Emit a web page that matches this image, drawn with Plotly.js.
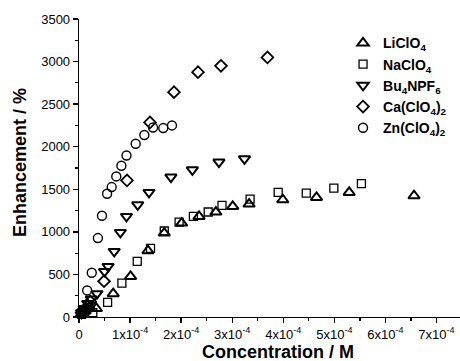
<!DOCTYPE html>
<html>
<head>
<meta charset="utf-8">
<script src="https://cdn.plot.ly/plotly-3.0.1.min.js"></script>
<style>html,body{margin:0;padding:0;background:#fff;}#chart{width:460px;height:361px;}</style>
</head>
<body>
<div id="chart"></div>
<script>
// Concentrations in M, enhancement in %
const liX = [0.05e-4,0.12e-4,0.2e-4,0.34e-4,0.67e-4,1.01e-4,1.35e-4,1.67e-4,2.01e-4,2.35e-4,2.68e-4,3.01e-4,3.33e-4,3.99e-4,4.65e-4,5.29e-4,6.56e-4];
const liY = [40,70,120,100,274,477,778,986,1103,1181,1233,1299,1327,1377,1404,1463,1424];

const naX = [0.05e-4,0.1e-4,0.18e-4,0.27e-4,0.56e-4,0.84e-4,1.14e-4,1.40e-4,1.67e-4,1.96e-4,2.24e-4,2.53e-4,2.80e-4,3.35e-4,3.90e-4,4.45e-4,4.99e-4,5.53e-4];
const naY = [30,60,110,50,171,399,653,805,1010,1115,1181,1233,1310,1385,1463,1456,1514,1566];

const buX = [0.05e-4,0.1e-4,0.17e-4,0.24e-4,0.35e-4,0.50e-4,0.57e-4,0.69e-4,0.81e-4,0.93e-4,1.15e-4,1.37e-4,1.80e-4,2.22e-4,2.74e-4,3.24e-4];
const buY = [50,100,160,210,274,535,594,770,993,1181,1318,1463,1643,1729,1820,1858];

const caX = [0.05e-4,0.13e-4,0.22e-4,0.49e-4,0.94e-4,1.39e-4,1.86e-4,2.33e-4,2.78e-4,3.69e-4];
const caY = [50,100,180,420,1604,2285,2641,2876,2950,3048];

const znX = [0.04e-4,0.08e-4,0.16e-4,0.25e-4,0.37e-4,0.45e-4,0.55e-4,0.64e-4,0.73e-4,0.83e-4,0.93e-4,1.11e-4,1.28e-4,1.45e-4,1.65e-4,1.82e-4];
const znY = [60,86,312,520,927,1189,1448,1526,1651,1776,1897,2035,2137,2226,2219,2250];

const names = ["LiClO<sub>4</sub>","NaClO<sub>4</sub>","Bu<sub>4</sub>NPF<sub>6</sub>","Ca(ClO<sub>4</sub>)<sub>2</sub>","Zn(ClO<sub>4</sub>)<sub>2</sub>"];
const xTickVals = [0,1e-4,2e-4,3e-4,4e-4,5e-4,6e-4,7e-4];
const xTickText = ["0","1x10<sup>-4</sup>","2x10<sup>-4</sup>","3x10<sup>-4</sup>","4x10<sup>-4</sup>","5x10<sup>-4</sup>","6x10<sup>-4</sup>","7x10<sup>-4</sup>"];
const yTickVals = [0,500,1000,1500,2000,2500,3000,3500];

const FONT = "Arial, 'Liberation Sans', sans-serif";
function tr(x,y,name,symbol,size,lw){
  return {x:x,y:y,name:name,type:'scatter',mode:'markers',cliponaxis:false,
    marker:{symbol:symbol,size:size,color:'#000',line:{color:'#000',width:lw}}};
}
const data = [
  tr(liX,liY,names[0],'triangle-up-open',10,2),
  tr(naX,naY,names[1],'square-open',8,1.3),
  tr(buX,buY,names[2],'triangle-down-open',10,2),
  tr(caX,caY,names[3],'diamond-open',9,1.8),
  tr(znX,znY,names[4],'circle-open',9,1.4)
];
const layout = {
  width:460,height:361,
  margin:{l:79,r:0,t:19,b:44},
  paper_bgcolor:'#fff',plot_bgcolor:'#fff',
  font:{family:FONT,color:'#000',size:13},
  showlegend:true,
  legend:{x:0.693,y:0.972,xanchor:'left',yanchor:'top',bgcolor:'rgba(0,0,0,0)',
    font:{family:FONT,size:14,weight:'bold',color:'#000'},tracegroupgap:0,itemwidth:30},
  xaxis:{range:[0,7.46e-4],showgrid:false,zeroline:false,showline:true,linecolor:'#000',linewidth:1.3,
    ticks:'outside',ticklen:5,tickwidth:1.3,tickcolor:'#000',tickvals:xTickVals,ticktext:xTickText,
    tickfont:{size:13},minor:{dtick:0.5e-4,tick0:0,ticks:'outside',ticklen:3,tickwidth:1.2,tickcolor:'#000'}},
  yaxis:{range:[0,3500],showgrid:false,zeroline:false,showline:true,linecolor:'#000',linewidth:1.3,
    ticks:'outside',ticklen:5,tickwidth:1.3,tickcolor:'#000',tickvals:yTickVals,
    tickfont:{size:13},minor:{dtick:250,tick0:0,ticks:'outside',ticklen:3,tickwidth:1.2,tickcolor:'#000'}},
  annotations:[
    {text:'Concentration / M',xref:'paper',yref:'paper',x:0.522,y:-0.116,xanchor:'center',yanchor:'middle',
      showarrow:false,font:{family:FONT,size:18,weight:'bold'}},
    {text:'Enhancement / %',xref:'paper',yref:'paper',x:-0.155,y:0.52,xanchor:'center',yanchor:'middle',
      textangle:-90,showarrow:false,font:{family:FONT,size:18,weight:'bold'}}
  ]
};
Plotly.newPlot('chart',data,layout,{staticPlot:true,displayModeBar:false});
</script>
</body>
</html>
